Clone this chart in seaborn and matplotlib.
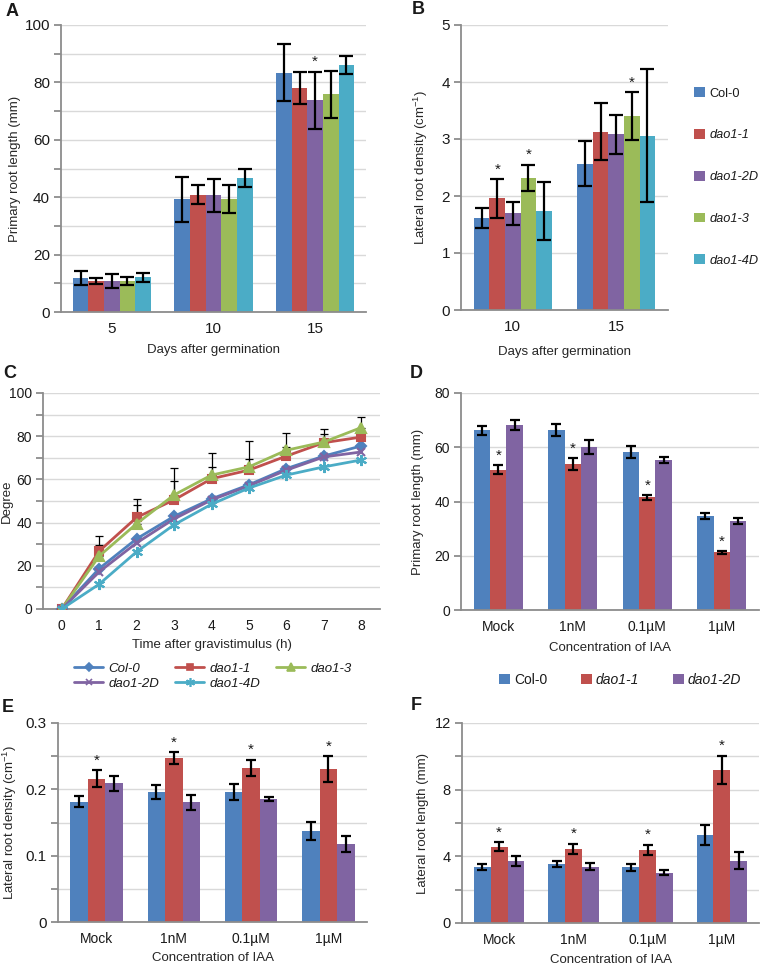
import numpy as np
import pandas as pd
import seaborn as sns
import matplotlib.pyplot as plt
import matplotlib.transforms as mtransforms
from matplotlib.ticker import MultipleLocator, FixedLocator, FuncFormatter
from matplotlib.patches import Patch
from matplotlib.lines import Line2D

# Strains and colours (Excel 2007 palette)
strains = ['Col-0', 'dao1-1', 'dao1-2D', 'dao1-3', 'dao1-4D']
colors = {'Col-0': '#4F81BD', 'dao1-1': '#C0504D', 'dao1-2D': '#8064A2',
          'dao1-3': '#9BBB59', 'dao1-4D': '#4BACC6'}
iaa_strains = ['Col-0', 'dao1-1', 'dao1-2D']

# A - primary root length vs days
days_a = ['5', '10', '15']
prl_mean = {'Col-0': [11.9, 39.2, 83.4], 'dao1-1': [10.8, 40.9, 78.1],
            'dao1-2D': [10.7, 40.6, 73.8], 'dao1-3': [10.7, 39.3, 75.8],
            'dao1-4D': [12.1, 46.7, 86.0]}
prl_err = {'Col-0': [2.4, 8.0, 10.0], 'dao1-1': [1.1, 3.4, 5.6],
           'dao1-2D': [2.4, 5.6, 9.9], 'dao1-3': [1.4, 4.8, 8.2],
           'dao1-4D': [1.6, 3.0, 3.2]}
prl_sig = [('15', 'dao1-2D')]

# B - lateral root density vs days
days_b = ['10', '15']
lrd_mean = {'Col-0': [1.61, 2.57], 'dao1-1': [1.96, 3.13], 'dao1-2D': [1.70, 3.08],
            'dao1-3': [2.32, 3.40], 'dao1-4D': [1.74, 3.06]}
lrd_err = {'Col-0': [0.18, 0.39], 'dao1-1': [0.34, 0.50], 'dao1-2D': [0.20, 0.34],
           'dao1-3': [0.23, 0.42], 'dao1-4D': [0.51, 1.17]}
lrd_sig = [('10', 'dao1-1'), ('10', 'dao1-3'), ('15', 'dao1-3')]

# C - gravitropic bending
hours = [0, 1, 2, 3, 4, 5, 6, 7, 8]
curve_order = ['Col-0', 'dao1-1', 'dao1-3', 'dao1-2D', 'dao1-4D']
degree = {'Col-0': [0, 18.7, 32.5, 42.9, 51, 57.5, 65, 70.8, 75.5],
          'dao1-1': [0, 26.8, 42.4, 50.5, 60.3, 64.3, 70.8, 77, 79.6],
          'dao1-3': [0, 24.5, 39.5, 52.8, 62, 65.8, 73.5, 77.3, 84],
          'dao1-2D': [0, 17.2, 30.6, 41.7, 50.5, 57, 64.3, 70.4, 72.7],
          'dao1-4D': [0, 11.5, 26.5, 39, 48.5, 56, 62, 65.8, 69]}
degree_err = {'dao1-1': [0, 2.6, 5.6, 8.8, 5.5, 5.1, 4.2, 4.2, 0],
              'dao1-3': [0, 9.5, 11.6, 12.7, 10, 12.2, 8, 6.2, 4.8]}
markers = {'Col-0': ('D', 5.5), 'dao1-1': ('s', 6), 'dao1-3': ('^', 7),
           'dao1-2D': ('x', 6), 'dao1-4D': ((6, 2, 0), 8)}

# D, E, F - IAA treatments
iaa = ['Mock', '1nM', '0.1µM', '1µM']
d_mean = {'Col-0': [66.3, 66.3, 58.3, 34.7], 'dao1-1': [51.7, 53.8, 41.5, 21.3],
          'dao1-2D': [68.1, 60.1, 55.4, 32.9]}
d_err = {'Col-0': [1.7, 2.2, 2.3, 1.2], 'dao1-1': [1.7, 2.1, 0.8, 0.5],
         'dao1-2D': [1.8, 2.5, 1.1, 1.2]}
e_mean = {'Col-0': [0.1815, 0.196, 0.196, 0.137], 'dao1-1': [0.216, 0.247, 0.2325, 0.2305],
          'dao1-2D': [0.209, 0.1805, 0.1856, 0.117]}
e_err = {'Col-0': [0.0086, 0.011, 0.0114, 0.014], 'dao1-1': [0.013, 0.0086, 0.012, 0.0197],
         'dao1-2D': [0.011, 0.011, 0.003, 0.012]}
f_mean = {'Col-0': [3.38, 3.56, 3.34, 5.28], 'dao1-1': [4.58, 4.46, 4.38, 9.2],
          'dao1-2D': [3.74, 3.38, 3.02, 3.74]}
f_err = {'Col-0': [0.19, 0.19, 0.19, 0.62], 'dao1-1': [0.26, 0.29, 0.32, 0.85],
         'dao1-2D': [0.31, 0.22, 0.16, 0.5]}
iaa_sig = [(c, 'dao1-1') for c in iaa]

sns.set_style('white')
plt.rcParams['font.family'] = ['Liberation Sans', 'DejaVu Sans']
plt.rcParams['mathtext.default'] = 'regular'
plt.rcParams['text.color'] = '#1a1a1a'

W, H = 762, 966
fig = plt.figure(figsize=(W / 100, H / 100), dpi=100)
AX_GRAY = '#8C8C8C'


def px_axes(l, t, r, b):
    return fig.add_axes([l / W, 1 - b / H, (r - l) / W, (b - t) / H])


def style_axis(ax, ymax, major, minor, ncat=None, tsize=10):
    ax.set_ylim(0, ymax)
    ax.yaxis.set_major_locator(MultipleLocator(major))
    ax.yaxis.set_minor_locator(MultipleLocator(minor))
    ax.yaxis.set_major_formatter(FuncFormatter(lambda v, _: f'{v:g}'))
    ax.yaxis.grid(True, which='both', color='#D9D9D9', lw=1)
    ax.xaxis.grid(False)
    ax.set_axisbelow(True)
    for s in ['top', 'right']:
        ax.spines[s].set_visible(False)
    for s in ['left', 'bottom']:
        ax.spines[s].set_color(AX_GRAY)
        ax.spines[s].set_linewidth(1.3)
    if ncat is not None:
        ax.set_xlim(-0.5, ncat - 0.5)
        ax.xaxis.set_minor_locator(FixedLocator(np.arange(-0.5, ncat, 1.0)))
    ax.tick_params(axis='x', which='major', length=0, pad=7, labelsize=tsize)
    ax.tick_params(axis='x', which='minor', length=5, width=1.3, color=AX_GRAY)
    ax.tick_params(axis='y', which='both', length=5, width=1.3, color=AX_GRAY,
                   pad=3, labelsize=tsize, left=True)


def place_labels(ax, xlabel, ylabel, ylab_x, xlab_y):
    ax.set_xlabel(xlabel, fontsize=9.5)
    ax.set_ylabel(ylabel, fontsize=9.5)
    ax.yaxis.set_label_coords((ylab_x + 6) / W, 0.5,
                              transform=mtransforms.blended_transform_factory(fig.transFigure, ax.transAxes))
    ax.xaxis.set_label_coords(0.5, 1 - (xlab_y - 6) / H,
                              transform=mtransforms.blended_transform_factory(ax.transAxes, fig.transFigure))


def bar_panel(ax, groups, means, errs, order, sig, width, capsize):
    df = pd.DataFrame([(g, s, means[s][i]) for s in order for i, g in enumerate(groups)],
                      columns=['group', 'strain', 'value'])
    sns.barplot(data=df, x='group', y='value', hue='strain', order=groups, hue_order=order,
                palette=colors, width=width, saturation=1, errorbar=None, legend=False,
                linewidth=0, ax=ax)
    bar_sets = list(ax.containers)
    for strain, bars in zip(order, bar_sets):
        xs = [b.get_x() + b.get_width() / 2 for b in bars]
        ys = [b.get_height() for b in bars]
        ax.errorbar(xs, ys, yerr=errs[strain], fmt='none', ecolor='black',
                    elinewidth=1.6, capsize=capsize, capthick=1.6, zorder=5)
        for x, y, e, g in zip(xs, ys, errs[strain], groups):
            if (g, strain) in sig:
                ax.annotate('*', (x, y + e), xytext=(0, 4), textcoords='offset points',
                            ha='center', va='baseline', fontsize=11)


# Panel A
axA = px_axes(61, 25, 366, 312)
bar_panel(axA, days_a, prl_mean, prl_err, strains, prl_sig, 0.77, 5)
style_axis(axA, 100, 20, 10, 3, tsize=11)
place_labels(axA, 'Days after germination', 'Primary root length (mm)', 15, 350)

# Panel B
axB = px_axes(461, 25, 668, 310)
bar_panel(axB, days_b, lrd_mean, lrd_err, strains, lrd_sig, 0.75, 5)
style_axis(axB, 5, 1, 1, 2, tsize=11)
place_labels(axB, 'Days after germination', 'Lateral root density (cm$^{-1}$)', 424, 352)
hB = [Patch(facecolor=colors[s], edgecolor='none') for s in strains]
legB = fig.legend(hB, strains, loc='upper left', bbox_to_anchor=(688 / W, 1 - 81 / H),
                  frameon=False, fontsize=9.2, handlelength=0.8, handleheight=0.8,
                  handletextpad=0.4, labelspacing=2.3, borderpad=0)
for t in legB.get_texts()[1:]:
    t.set_fontstyle('italic')

# Panel C
axC = px_axes(43, 393, 380, 609)
for s in curve_order:
    m, ms = markers[s]
    sns.lineplot(x=hours, y=degree[s], color=colors[s], lw=2, marker=m, markersize=ms,
                 markeredgecolor=colors[s], markerfacecolor=colors[s], markeredgewidth=1.5,
                 ax=axC, zorder=3)
for s, errs in degree_err.items():
    axC.errorbar(hours, degree[s], yerr=[np.zeros(len(errs)), errs], fmt='none',
                 ecolor='black', elinewidth=0.9, capsize=3, capthick=0.9, zorder=2)
style_axis(axC, 100, 20, 10, 9)
axC.set_xticks(hours)
place_labels(axC, 'Time after gravistimulus (h)', 'Degree', 7, 645)
hC = [Line2D([], [], color=colors[s], lw=2, marker=markers[s][0], markersize=markers[s][1] * 0.8,
             markeredgecolor=colors[s], markeredgewidth=1.2) for s in curve_order]
c_idx = [0, 3, 1, 4, 2]
legC = fig.legend([hC[i] for i in c_idx], [curve_order[i] for i in c_idx], loc='center',
                  bbox_to_anchor=(213 / W, 1 - 676 / H), ncol=3, frameon=False, fontsize=9.5,
                  handlelength=2.2, handletextpad=0.4, columnspacing=1.2, labelspacing=0.2,
                  borderpad=0)
for t in legC.get_texts():
    t.set_fontstyle('italic')

# Panel D
axD = px_axes(461, 393, 759, 610)
bar_panel(axD, iaa, d_mean, d_err, iaa_strains, iaa_sig, 0.66, 3.5)
style_axis(axD, 80, 20, 20, 4)
place_labels(axD, 'Concentration of IAA', 'Primary root length (mm)', 418, 648)
hD = [Patch(facecolor=colors[s], edgecolor='none') for s in iaa_strains]
legD = fig.legend(hD, iaa_strains, loc='center', bbox_to_anchor=(620 / W, 1 - 680 / H),
                  ncol=3, frameon=False, fontsize=10, handlelength=0.8, handleheight=0.8,
                  handletextpad=0.3, columnspacing=2.4, borderpad=0)
for t in legD.get_texts()[1:]:
    t.set_fontstyle('italic')

# Panel E
axE = px_axes(58, 723, 367, 922)
bar_panel(axE, iaa, e_mean, e_err, iaa_strains, iaa_sig, 0.68, 3.5)
style_axis(axE, 0.3, 0.1, 0.05, 4, tsize=11)
place_labels(axE, 'Concentration of IAA', 'Lateral root density (cm$^{-1}$)', 13, 958)

# Panel F
axF = px_axes(462, 723, 759, 923)
bar_panel(axF, iaa, f_mean, f_err, iaa_strains, iaa_sig, 0.68, 3.5)
style_axis(axF, 12, 4, 2, 4, tsize=10.5)
place_labels(axF, 'Concentration of IAA', 'Lateral root length (mm)', 423, 960)

for ax in [axA, axB, axC, axD, axE, axF]:
    ax.tick_params(labelcolor='#1a1a1a')
for ax in [axC, axD, axE, axF]:
    ax.tick_params(axis='x', which='major', labelsize=10)

# Panel letters
for letter, x, y in [('A', 12, 12), ('B', 418, 10), ('C', 10, 373),
                     ('D', 416, 373), ('E', 8, 708), ('F', 416, 705)]:
    fig.text(x / W, 1 - y / H, letter, fontsize=13, fontweight='bold', ha='center', va='center')

fig.savefig('out.png', dpi=100)
